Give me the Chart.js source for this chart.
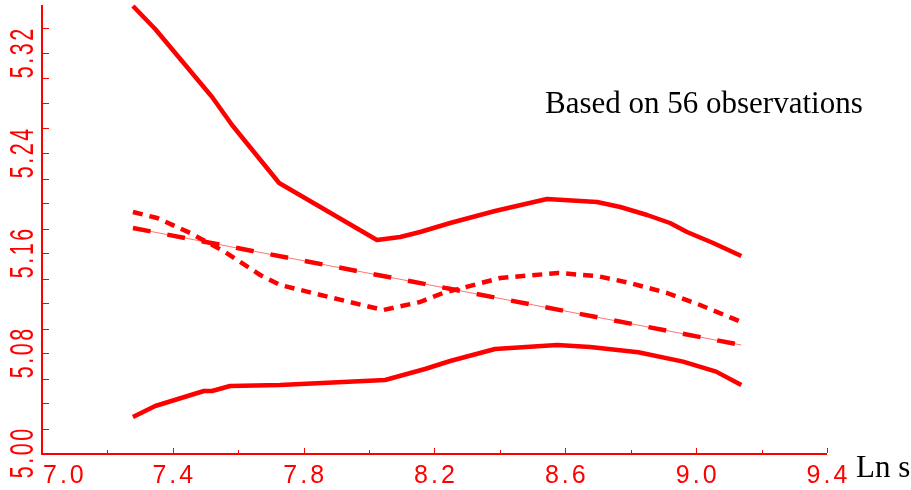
<!DOCTYPE html>
<html>
<head>
<meta charset="utf-8">
<script src="https://cdn.jsdelivr.net/npm/chart.js@4"></script>
<style>
  html, body { margin: 0; padding: 0; background: #ffffff; }
  #wrap { width: 911px; height: 490px; }
  canvas { display: block; }
</style>
</head>
<body>
<div id="wrap"><canvas id="c" width="911" height="490"></canvas></div>
<script>
// ---- data ----
const upperX = [7.278, 7.346, 7.520, 7.581, 7.725, 8.024, 8.095, 8.156, 8.248, 8.385, 8.544, 8.697, 8.768, 8.850, 8.920, 8.972, 9.052, 9.138];
const upperY = [5.358, 5.3396, 5.2852, 5.2628, 5.2164, 5.1708, 5.1732, 5.1772, 5.1844, 5.194, 5.2036, 5.2012, 5.1972, 5.1908, 5.1844, 5.1772, 5.1684, 5.158];

const lowerX = [7.278, 7.346, 7.495, 7.520, 7.575, 7.728, 8.049, 8.171, 8.248, 8.385, 8.575, 8.676, 8.823, 8.960, 9.061, 9.138];
const lowerY = [5.0292, 5.038, 5.050, 5.050, 5.054, 5.0548, 5.0588, 5.0676, 5.074, 5.0836, 5.0868, 5.0852, 5.081, 5.0735, 5.0655, 5.0548];

const dashedX = [7.278, 7.352, 7.453, 7.560, 7.667, 7.728, 7.890, 8.043, 8.156, 8.226, 8.401, 8.578, 8.697, 8.798, 8.911, 9.012, 9.138];
const dashedY = [5.1932, 5.1884, 5.1764, 5.1612, 5.1428, 5.1348, 5.1244, 5.1148, 5.1212, 5.1284, 5.1404, 5.1444, 5.142, 5.1364, 5.1284, 5.1188, 5.1052];

const fitX = [7.278, 8.250, 9.138];
const fitY = [5.1804, 5.1316, 5.0868];

const xTickValues = [7.0, 7.2, 7.4, 7.6, 7.8, 8.0, 8.2, 8.4, 8.6, 8.8, 9.0, 9.2, 9.4];
const xLabelValues = [7.0, 7.4, 7.8, 8.2, 8.6, 9.0, 9.4];
const xLabels = ['7.0', '7.4', '7.8', '8.2', '8.6', '9.0', '9.4'];
const yTickValues = [5.00, 5.02, 5.04, 5.06, 5.08, 5.10, 5.12, 5.14, 5.16, 5.18, 5.20, 5.22, 5.24, 5.26, 5.28, 5.30, 5.32, 5.34];
const yLabelValues = [5.00, 5.08, 5.16, 5.24, 5.32];
const yLabels = ['5.00', '5.08', '5.16', '5.24', '5.32'];
const xAxisTitle = 'Ln s';
const noteText = 'Based on 56 observations';

// ---- build points ----
const pts = (xs, ys) => xs.map((x, i) => ({ x: x, y: ys[i] }));
const RED = '#ff0000';
const SPACING = 3;

function spacedText(ctx, text, cx, y, align) {
  ctx.letterSpacing = SPACING + 'px';
  ctx.textAlign = 'left';
  const w = ctx.measureText(text).width - SPACING;
  const left = align === 'left' ? cx : cx - w / 2;
  ctx.fillText(text, left, y);
  ctx.letterSpacing = '0px';
}

const axesPlugin = {
  id: 'axesPlugin',
  afterDraw(chart) {
    const ctx = chart.ctx;
    const xs = chart.scales.x, ys = chart.scales.y;
    const area = chart.chartArea;
    const x0 = xs.getPixelForValue(xs.min);
    const x1 = xs.getPixelForValue(xs.max);
    const y0 = ys.getPixelForValue(ys.min);
    const yTop = area.top;
    ctx.save();
    ctx.fillStyle = RED;
    // axis lines
    ctx.fillRect(Math.round(x0) - 1, yTop, 2, y0 - yTop + 1);
    ctx.fillRect(Math.round(x0) - 1, Math.round(y0) - 1, x1 - x0 + 1, 2);
    // y ticks (inside)
    yTickValues.forEach(v => {
      const py = Math.round(ys.getPixelForValue(v));
      if (v > ys.min + 1e-9) ctx.fillRect(Math.round(x0), py, 7, 1);
    });
    // x ticks (inside)
    xTickValues.forEach(v => {
      const px = Math.round(xs.getPixelForValue(v));
      if (v <= xs.min + 1e-9) return;
      const labeled = xLabelValues.some(l => Math.abs(l - v) < 1e-9);
      const h = labeled ? 5 : 3;
      ctx.fillRect(px, Math.round(y0) - 1 - h, 1, h);
    });
    // x labels
    ctx.font = '25px "Liberation Sans"';
    ctx.textBaseline = 'alphabetic';
    xLabelValues.forEach((v, i) => {
      const px = xs.getPixelForValue(v);
      if (i === 0) spacedText(ctx, xLabels[i], px + 1, 483, 'left');
      else spacedText(ctx, xLabels[i], px, 483, 'center');
    });
    // y labels (rotated, stretched)
    yLabelValues.forEach((v, i) => {
      const py = ys.getPixelForValue(v);
      ctx.save();
      ctx.translate(20.5, py);
      ctx.rotate(-Math.PI / 2);
      ctx.scale(0.86, 1.36);
      spacedText(ctx, yLabels[i], 0, 9, 'center');
      ctx.restore();
    });
    // axis title and note
    ctx.fillStyle = '#000000';
    ctx.font = '31px "Liberation Serif"';
    ctx.textAlign = 'left';
    ctx.fillText(xAxisTitle, 856, 477);
    ctx.fillText(noteText, 545, 113);
    ctx.restore();
  }
};

new Chart(document.getElementById('c'), {
  type: 'line',
  data: {
    datasets: [
      { data: pts(upperX, upperY), borderColor: RED, borderWidth: 4.5, pointRadius: 0, fill: false, clip: false },
      { data: pts(lowerX, lowerY), borderColor: RED, borderWidth: 4.5, pointRadius: 0, fill: false, clip: false },
      { data: pts(dashedX, dashedY), borderColor: RED, borderWidth: 4.5, borderDash: [10, 7], pointRadius: 0, fill: false, clip: false },
      { data: pts(fitX, fitY), borderColor: 'rgba(255,0,0,0.55)', borderWidth: 1, pointRadius: 0, fill: false, clip: false },
      { data: pts(fitX, fitY), borderColor: RED, borderWidth: 4.5, borderDash: [18, 17], pointRadius: 0, fill: false, clip: false }
    ]
  },
  options: {
    responsive: false,
    animation: false,
    events: [],
    layout: { padding: { left: 42, right: 84, top: 5, bottom: 36.5 } },
    elements: { line: { tension: 0, borderCapStyle: 'butt', borderJoinStyle: 'round' } },
    plugins: { legend: { display: false }, tooltip: { enabled: false } },
    scales: {
      x: { type: 'linear', display: false, min: 7.0, max: 9.4 },
      y: { type: 'linear', display: false, min: 5.0, max: 5.3588 }
    }
  },
  plugins: [axesPlugin]
});
</script>
</body>
</html>
